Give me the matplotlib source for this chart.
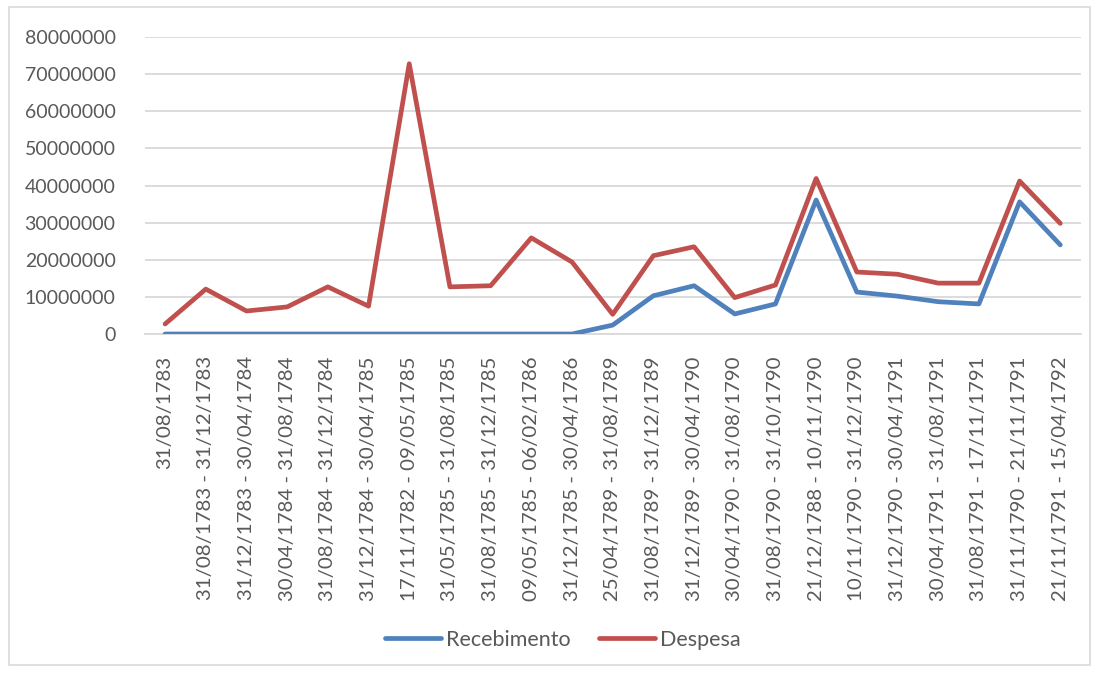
import matplotlib
matplotlib.use("Agg")
import matplotlib.pyplot as plt
from matplotlib.patches import Rectangle

plt.rcParams['font.family'] = ['Lato', 'DejaVu Sans']

periodos = [
    "31/08/1783",
    "31/08/1783 - 31/12/1783",
    "31/12/1783 - 30/04/1784",
    "30/04/1784 - 31/08/1784",
    "31/08/1784 - 31/12/1784",
    "31/12/1784 - 30/04/1785",
    "17/11/1782 - 09/05/1785",
    "31/05/1785 - 31/08/1785",
    "31/08/1785 - 31/12/1785",
    "09/05/1785 - 06/02/1786",
    "31/12/1785 - 30/04/1786",
    "25/04/1789 - 31/08/1789",
    "31/08/1789 - 31/12/1789",
    "31/12/1789 - 30/04/1790",
    "30/04/1790 - 31/08/1790",
    "31/08/1790 - 31/10/1790",
    "21/12/1788 - 10/11/1790",
    "10/11/1790 - 31/12/1790",
    "31/12/1790 - 30/04/1791",
    "30/04/1791 - 31/08/1791",
    "31/08/1791 - 17/11/1791",
    "31/11/1790 - 21/11/1791",
    "21/11/1791 - 15/04/1792",
]

recebimento = [0, 0, 0, 0, 0, 0, 0, 0, 0, 0, 0,
               2400000, 10300000, 13000000, 5400000, 8100000, 36100000,
               11300000, 10200000, 8700000, 8100000, 35600000, 24000000]

despesa = [2700000, 12100000, 6200000, 7300000, 12700000, 7500000, 72800000,
           12700000, 13000000, 25900000, 19400000, 5300000, 21100000, 23500000,
           9800000, 13200000, 41900000, 16700000, 16100000, 13700000, 13700000,
           41200000, 29800000]

yticks = [0, 10000000, 20000000, 30000000, 40000000, 50000000, 60000000, 70000000, 80000000]

txt = '#595959'
grid = '#d9d9d9'

fig = plt.figure(figsize=(10.99, 6.73), dpi=100)
fig.patches.append(Rectangle((0.008, 0.012), 0.984, 0.977, transform=fig.transFigure,
                             fill=False, edgecolor=grid, linewidth=1.2))

ax = fig.add_axes([0.1317, 0.5037, 0.8516, 0.4413])
x = list(range(len(periodos)))
ax.plot(x, recebimento, color='#4f81bd', linewidth=3.4, solid_capstyle='round',
        solid_joinstyle='round', label='Recebimento', zorder=3)
ax.plot(x, despesa, color='#c0504d', linewidth=3.4, solid_capstyle='round',
        solid_joinstyle='round', label='Despesa', zorder=3)

ax.set_xlim(-0.5, len(periodos) - 0.5)
ax.set_ylim(0, 80000000)
ax.set_yticks(yticks)
ax.set_yticklabels([str(v) for v in yticks])
ax.set_xticks(x)
ax.set_xticklabels(periodos, rotation=90)
ax.tick_params(axis='both', length=0, colors=txt)
ax.tick_params(axis='x', pad=16, labelsize=14.7)
ax.tick_params(axis='y', pad=21, labelsize=14)
ax.grid(axis='y', color=grid, linewidth=1.3)
ax.set_axisbelow(True)
for s in ['top', 'right', 'left']:
    ax.spines[s].set_visible(False)
ax.spines['bottom'].set_color(grid)
ax.spines['bottom'].set_linewidth(1.3)

leg = fig.legend(loc='center', bbox_to_anchor=(0.512, 0.049), ncol=2, frameon=False,
                 fontsize=15.5, handlelength=2.6, columnspacing=1.3, handletextpad=0.25)
for t in leg.get_texts():
    t.set_color(txt)

fig.savefig('out.png', dpi=100)
